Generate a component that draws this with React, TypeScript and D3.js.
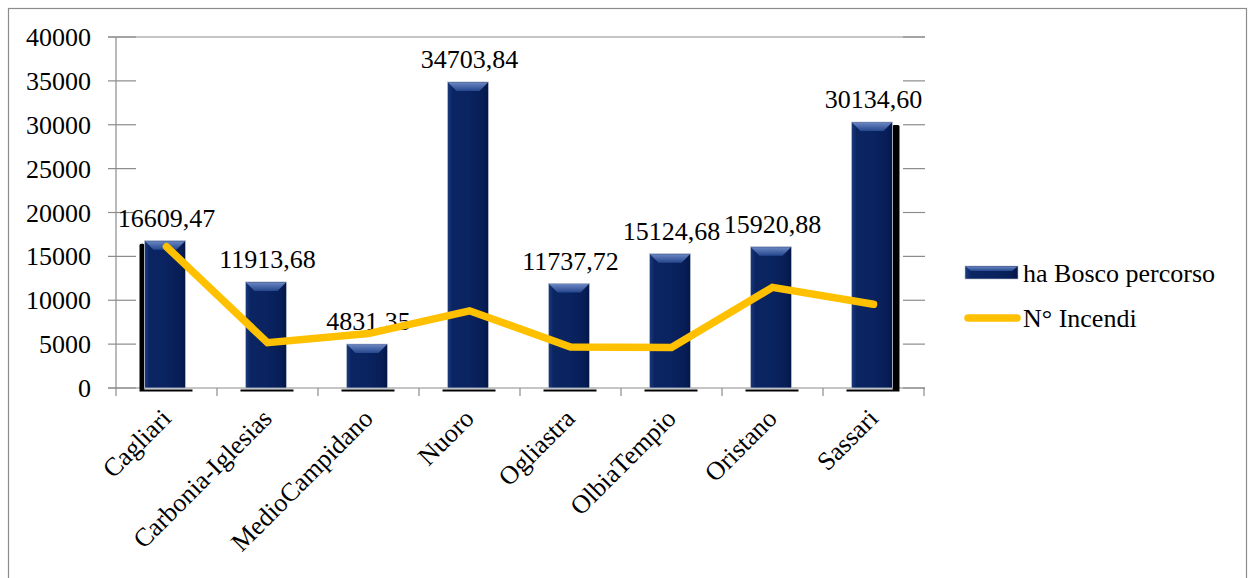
import React from "react";
import * as d3 from "d3";

const categories = ["Cagliari", "Carbonia-Iglesias", "MedioCampidano", "Nuoro", "Ogliastra", "OlbiaTempio", "Oristano", "Sassari"];
const boscoValues = [16609.47, 11913.68, 4831.35, 34703.84, 11737.72, 15124.68, 15920.88, 30134.6];
const boscoLabels = ["16609,47", "11913,68", "4831,35", "34703,84", "11737,72", "15124,68", "15920,88", "30134,60"];
const incendiValues = [16100, 5160, 6200, 8800, 4670, 4620, 11475, 9540];
const yTicks = [0, 5000, 10000, 15000, 20000, 25000, 30000, 35000, 40000];
const seriesNames = ["ha Bosco percorso", "N° Incendi"];

const W = 1248;
const H = 578;
const FONT = "'Liberation Serif', 'Times New Roman', serif";
const GRID = "#8c8c8c";

export default function App() {
  const x = d3.scaleBand<string>().domain(categories).range([116, 924]).paddingInner(0).paddingOuter(0);
  const y = d3.scaleLinear().domain([0, 40000]).range([388, 37]);
  const bw = 41;
  const line = d3
    .line<number>()
    .x((_, i) => (x(categories[i]) as number) + x.bandwidth() / 2)
    .y((d) => y(d));

  return (
    <svg width={W} height={H} style={{ position: "absolute", left: 0, top: 0, display: "block", background: "#fff" }} fontFamily={FONT}>
      <defs>
        <linearGradient id="barG" x1="0" x2="1" y1="0" y2="0">
          <stop offset="0" stopColor="#1c3a7c" />
          <stop offset="0.12" stopColor="#0b2563" />
          <stop offset="0.5" stopColor="#0a2462" />
          <stop offset="0.88" stopColor="#071d55" />
          <stop offset="1" stopColor="#041647" />
        </linearGradient>
        <linearGradient id="bevG" x1="0" x2="0" y1="0" y2="1">
          <stop offset="0" stopColor="#6a86c2" />
          <stop offset="1" stopColor="#26478e" />
        </linearGradient>
      </defs>
      <rect x={8.5} y={8.5} width={1238} height={590} fill="none" stroke={GRID} strokeWidth={1.2} />

      {yTicks.map((t) => (
        <g key={t}>
          <line x1={108} x2={136} y1={y(t)} y2={y(t)} stroke={GRID} strokeWidth={1.2} />
          <line x1={903} x2={925} y1={y(t)} y2={y(t)} stroke={GRID} strokeWidth={1.2} />
          <text x={91} y={y(t) + 9} textAnchor="end" fontSize={26} fill="#000">
            {t}
          </text>
        </g>
      ))}
      <line x1={108} x2={925} y1={y(40000)} y2={y(40000)} stroke={GRID} strokeWidth={1.2} />
      <line x1={108} x2={925} y1={y(0)} y2={y(0)} stroke={GRID} strokeWidth={1.2} />
      <line x1={116} x2={116} y1={y(40000)} y2={396} stroke={GRID} strokeWidth={1.2} />
      {categories.map((c) => (
        <line key={c} x1={(x(c) as number) + x.bandwidth()} x2={(x(c) as number) + x.bandwidth()} y1={y(0)} y2={396} stroke={GRID} strokeWidth={1.2} />
      ))}

      {categories.map((c, i) => {
        const cx = (x(c) as number) + x.bandwidth() / 2;
        const bx = cx - 1.5 - bw / 2;
        const top = y(boscoValues[i]) - 1.5;
        const bottom = y(0);
        const bev = 9;
        return (
          <g key={c}>
            {i === 0 && <rect x={bx - 5} y={top + 3} width={5} height={bottom - top - 1} fill="#000" rx={1.5} />}
            {i === categories.length - 1 && <rect x={bx + bw} y={top + 3} width={7} height={bottom - top - 1} fill="#000" rx={1.5} />}
            <rect x={bx} y={top} width={bw} height={bottom - top} fill="url(#barG)" stroke="#b8c0d0" strokeWidth={0.8} />
            <path
              d={`M${bx + 0.5},${top + 0.5} L${bx + bw - 0.5},${top + 0.5} L${bx + bw - bev},${top + bev} L${bx + bev},${top + bev} Z`}
              fill="url(#bevG)"
            />
            <line x1={bx - 5} x2={bx + bw + 7} y1={390.5} y2={390.5} stroke="#000" strokeWidth={1.8} />
            <text x={cx} y={top - 14} textAnchor="middle" fontSize={26} fill="#000">
              {boscoLabels[i]}
            </text>
          </g>
        );
      })}

      <path d={line(incendiValues) as string} fill="none" stroke="#FFC000" strokeWidth={7.5} strokeLinecap="round" strokeLinejoin="miter" />

      {categories.map((c) => {
        const cx = (x(c) as number) + x.bandwidth() / 2;
        return (
          <text key={c} x={0} y={0} transform={`translate(${cx + 6},${420}) rotate(-45)`} textAnchor="end" fontSize={26} fill="#000">
            {c}
          </text>
        );
      })}

      <g>
        <rect x={965} y={266} width={53} height={13} fill="url(#barG)" stroke="#b8c0d0" strokeWidth={0.6} />
        <path d="M965.5,266.5 L1017.5,266.5 L1012,271 L971,271 Z" fill="url(#bevG)" />
        <text x={1023} y={282} fontSize={26} fill="#000">
          {seriesNames[0]}
        </text>
        <line x1={968} x2={1017} y1={318} y2={318} stroke="#FFC000" strokeWidth={7.5} strokeLinecap="round" />
        <text x={1023} y={327} fontSize={26} fill="#000">
          {seriesNames[1]}
        </text>
      </g>
    </svg>
  );
}
